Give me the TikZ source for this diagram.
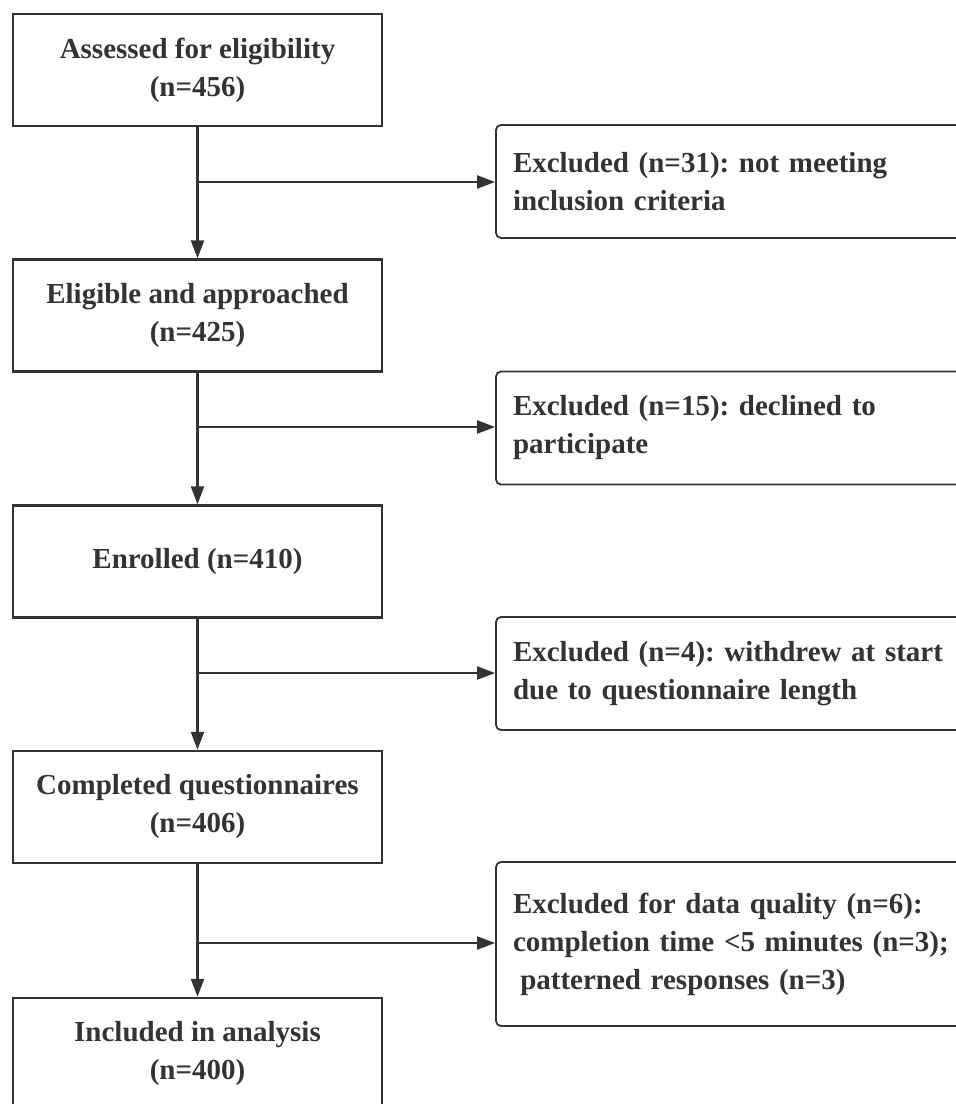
\documentclass[tikz,border=0pt]{standalone}
\usepackage{fontspec}
\setmainfont{Liberation Serif}
\usetikzlibrary{positioning,arrows.meta,calc}
\definecolor{linegray}{HTML}{333333}

\tikzset{
  stagebox/.style={draw=linegray, line width=2.4pt, minimum width=369pt, minimum height=112pt,
    align=center, inner sep=0pt, text=linegray, font=\bfseries\fontsize{29}{38}\selectfont},
  exclbox/.style={draw=linegray, line width=1.8pt, rounded corners=5pt, minimum width=470pt,
    minimum height=113pt, text width=436pt, inner xsep=17pt, inner ysep=0pt, align=left,
    text=linegray, font=\bfseries\fontsize{29}{38}\selectfont},
  flow/.style={draw=linegray, line width=2.2pt, -{Triangle[length=18pt,width=13pt]}}
}

\begin{document}
\frenchspacing
\begin{tikzpicture}[x=1pt, y=-1pt]
    \useasboundingbox (0,0) rectangle (956,1104);
    \clip (0,0) rectangle (956,1104);

    % =========================================================
    % MAIN STAGES
    % =========================================================
    \node[stagebox] (assessed) at (197.5, 70) {Assessed for eligibility\\(n=456)};
    \node[stagebox] (eligible) at (197.5, 315.5) {Eligible and approached\\(n=425)};
    \node[stagebox] (enrolled) at (197.5, 561.5) {Enrolled (n=410)};
    \node[stagebox] (completed) at (197.5, 807) {Completed questionnaires\\(n=406)};
    \node[stagebox] (included) at (197.5, 1054) {Included in analysis\\(n=400)};

    % =========================================================
    % EXCLUSIONS
    % =========================================================
    \node[exclbox] (excl1) at (731, 181.5) {Excluded (n=31): not meeting\\inclusion criteria};
    \node[exclbox] (excl2) at (731, 428) {Excluded (n=15): declined to\\participate};
    \node[exclbox] (excl3) at (731, 673.5) {Excluded (n=4): withdrew at start\\due to questionnaire length};
    \node[exclbox, minimum height=164pt] (excl4) at (731, 944)
        {Excluded for data quality (n=6):\\completion time <5 minutes (n=3);\\\hspace*{0.25em}patterned responses (n=3)};

    % Branch points
    \coordinate (split1) at (197.5, 182);
    \coordinate (split2) at (197.5, 427);
    \coordinate (split3) at (197.5, 673);
    \coordinate (split4) at (197.5, 943);

    % Vertical flow
    \draw[flow] (assessed) -- (eligible);
    \draw[flow] (eligible) -- (enrolled);
    \draw[flow] (enrolled) -- (completed);
    \draw[flow] (completed) -- (included);

    % Side arrows
    \draw[flow] (split1) -- (split1 -| excl1.west);
    \draw[flow] (split2) -- (split2 -| excl2.west);
    \draw[flow] (split3) -- (split3 -| excl3.west);
    \draw[flow] (split4) -- (split4 -| excl4.west);
\end{tikzpicture}
\end{document}
